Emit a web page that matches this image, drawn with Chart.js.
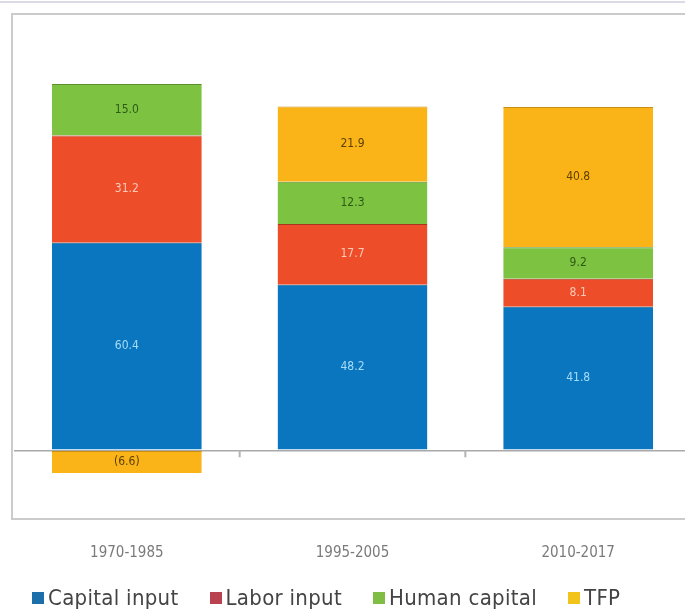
<!DOCTYPE html>
<html>
<head>
<meta charset="utf-8">
<title>Growth accounting</title>
<script src="https://cdn.jsdelivr.net/npm/chart.js@4.4.1/dist/chart.umd.min.js"></script>
<style>
html, body {
    margin: 0;
    width: 685px;
    height: 614px;
    overflow: hidden;
    background: #fff;
}
#rule {
    position: absolute;
    left: 0;
    top: 1px;
    width: 685px;
    height: 0;
    border-top: 2px solid #dcdae6;
}
#wrap {
    position: absolute;
    left: 0;
    top: 0;
    width: 700px;
    height: 587px;
}
#legend {
    position: absolute;
    left: 32px;
    top: 585px;
    display: flex;
    align-items: center;
    font-family: 'DejaVu Sans Condensed', 'DejaVu Sans', sans-serif;
    font-size: 22px;
    letter-spacing: 0.3px;
    color: #444;
    white-space: nowrap;
}
#legend span.item {
    display: flex;
    align-items: center;
    margin-right: 31px;
}
#legend span.box {
    display: inline-block;
    width: 12px;
    height: 12px;
    margin-right: 4px;
}
</style>
</head>
<body>
<div id="rule"></div>
<div id="wrap"><canvas id="chart" width="700" height="587"></canvas></div>
<div id="legend"></div>
<script>
'use strict';

const periods = [ '1970-1985', '1995-2005', '2010-2017' ];
const seriesNames = [ 'Capital input', 'Labor input', 'Human capital', 'TFP' ];
const capitalInput = [ 60.4, 48.2, 41.8 ];
const laborInput = [ 31.2, 17.7, 8.1 ];
const humanCapital = [ 15.0, 12.3, 9.2 ];
const tfp = [ -6.6, 21.9, 40.8 ];

const FONT = "'DejaVu Sans Condensed', 'DejaVu Sans', sans-serif";
const fills = [ '#0a76bf', '#ee4d2a', '#7dc241', '#fbb417' ];
const edges = [ '#0b5f96', '#a8361f', '#5a8f2c', '#c98f10' ];
const inkColors = [ '#a6dcf8', '#fbcab6', '#2f5a16', '#5e4100' ];
const legendColors = [ '#1d6fa9', '#b8424f', '#80bd45', '#f2c31a' ];

/**
 * 各セグメントの中央に値を書く (負の値は括弧書き)
 */
const segmentLabels = {
    id: 'segmentLabels',
    afterDatasetsDraw(chart)
    {
        const ctx = chart.ctx;
        ctx.save();
        ctx.font = `12px ${FONT}`;
        ctx.textAlign = 'center';
        ctx.textBaseline = 'middle';
        chart.data.datasets.forEach((ds, i) => {
            chart.getDatasetMeta(i).data.forEach((bar, j) => {
                const v = ds.data[j];
                const text = v < 0 ? `(${Math.abs(v).toFixed(1)})` : v.toFixed(1);
                ctx.fillStyle = inkColors[i];
                ctx.fillText(text, bar.x, (bar.y + bar.base) / 2);
            });
        });
        ctx.restore();
    },
};

/**
 * 枠線と、カテゴリ境界のゼロ線上の小さな目盛り
 */
const frame = {
    id: 'frame',
    beforeDraw(chart)
    {
        const { ctx, chartArea } = chart;
        ctx.save();
        ctx.strokeStyle = '#cbcbcb';
        ctx.lineWidth = 2;
        ctx.strokeRect(chartArea.left - 2, chartArea.top,
            chartArea.right - chartArea.left + 20, chartArea.bottom - chartArea.top);
        ctx.restore();
    },
    afterDraw(chart)
    {
        const { ctx, scales: { x, y } } = chart;
        const y0 = y.getPixelForValue(0);
        ctx.save();
        ctx.strokeStyle = '#b4b4b4';
        ctx.lineWidth = 2;
        for (let i = 1; i < periods.length; i++) {
            const px = (x.getPixelForValue(i - 1) + x.getPixelForValue(i)) / 2;
            ctx.beginPath();
            ctx.moveTo(px, y0);
            ctx.lineTo(px, y0 + 7);
            ctx.stroke();
        }
        ctx.restore();
    },
};

function
buildLegend(el)
{
    seriesNames.forEach((name, i) => {
        const item = document.createElement('span');
        item.className = 'item';
        const box = document.createElement('span');
        box.className = 'box';
        box.style.background = legendColors[i];
        item.append(box, document.createTextNode(name));
        el.append(item);
    });
}

function
main()
{
    const values = [ capitalInput, laborInput, humanCapital, tfp ];
    const datasets = seriesNames.map((name, i) => ({
        label: name,
        data: values[i],
        backgroundColor: fills[i],
        borderColor: edges[i],
        borderWidth: { top: 1, right: 0, bottom: 0, left: 0 },
        borderSkipped: false,
        barPercentage: 1,
        categoryPercentage: 0.664,
    }));

    new Chart(document.getElementById('chart'), {
        type: 'bar',
        data: { labels: periods, datasets },
        options: {
            responsive: false,
            animation: false,
            devicePixelRatio: 1,
            layout: { padding: { left: 14, right: 9, top: 14, bottom: 8 } },
            plugins: {
                legend: { display: false },
                tooltip: { enabled: false },
            },
            scales: {
                x: {
                    stacked: true,
                    grid: { display: false },
                    border: { display: false },
                    ticks: {
                        padding: 17,
                        color: '#7a7a7a',
                        font: { family: FONT, size: 15 },
                    },
                },
                y: {
                    stacked: true,
                    min: -20,
                    max: 127,
                    border: { display: false },
                    ticks: { display: false, stepSize: 20 },
                    grid: {
                        drawTicks: false,
                        lineWidth: 1.5,
                        color: ctx => ctx.tick && ctx.tick.value === 0 ? '#a9a9a9' : 'rgba(0,0,0,0)',
                    },
                },
            },
        },
        plugins: [ frame, segmentLabels ],
    });

    buildLegend(document.getElementById('legend'));
}

main();
</script>
</body>
</html>
